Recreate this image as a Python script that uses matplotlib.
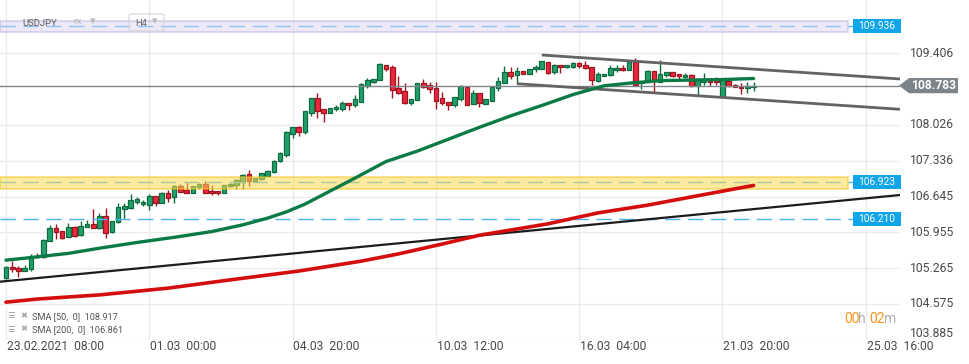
"""
plot.py

USDJPY H4 candles with SMA 50/200, trend channel and key levels.
"""
import matplotlib.pyplot as plt
from matplotlib.patches import Rectangle, Polygon, FancyBboxPatch
from matplotlib.transforms import blended_transform_factory
import numpy as np

plt.rcParams['font.family'] = ['Roboto', 'DejaVu Sans']

# candles (H4 bars, index 0 = 23.02.2021 08:00)
opens = [105.08, 105.28, 105.26, 105.22, 105.24, 105.49, 105.48, 105.78, 106.03, 105.98,
         105.87, 106.05, 105.90, 106.05, 106.12, 106.03, 106.27, 105.96, 106.15, 106.41,
         106.43, 106.55, 106.50, 106.48, 106.65, 106.53, 106.71, 106.64, 106.85, 106.77,
         106.72, 106.82, 106.88, 106.76, 106.75, 106.71, 106.84, 106.86, 106.93, 107.08,
         106.95, 106.99, 107.05, 107.11, 107.33, 107.45, 107.86, 107.98, 107.88, 108.26,
         108.54, 108.33, 108.26, 108.33, 108.34, 108.44, 108.40, 108.47, 108.78, 108.85,
         108.90, 109.19, 109.14, 108.74, 108.68, 108.44, 108.50, 108.83, 108.79, 108.74,
         108.55, 108.46, 108.40, 108.53, 108.76, 108.42, 108.64, 108.43, 108.49, 108.74,
         108.84, 109.04, 108.98, 109.06, 109.01, 109.10, 109.11, 109.24, 109.04, 109.18,
         109.14, 109.14, 109.21, 109.18, 109.14, 108.87, 108.97, 108.98, 109.08, 109.13,
         109.08, 109.23, 108.84, 108.85, 109.07, 108.86, 108.99, 109.05, 109.01, 108.94,
         108.99, 108.78, 108.85, 108.88, 108.89, 108.57, 108.88, 108.80, 108.76, 108.73,
         108.76]
highs = [105.31, 105.40, 105.31, 105.32, 105.53, 105.55, 105.82, 106.09, 106.12, 105.98,
         106.13, 106.07, 106.17, 106.19, 106.40, 106.33, 106.43, 106.17, 106.52, 106.52,
         106.70, 106.63, 106.58, 106.69, 106.65, 106.73, 106.77, 106.87, 106.89, 106.93,
         106.85, 106.90, 106.95, 106.87, 106.75, 106.87, 106.91, 106.98, 107.08, 107.16,
         107.00, 107.10, 107.16, 107.35, 107.50, 107.91, 107.98, 108.01, 108.30, 108.55,
         108.65, 108.33, 108.35, 108.41, 108.49, 108.44, 108.60, 108.83, 108.93, 108.92,
         109.21, 109.19, 109.18, 108.97, 108.83, 108.52, 108.83, 108.91, 108.86, 108.86,
         108.66, 108.46, 108.57, 108.79, 108.78, 108.70, 108.64, 108.52, 108.76, 108.94,
         109.16, 109.14, 109.14, 109.06, 109.10, 109.18, 109.26, 109.24, 109.20, 109.18,
         109.19, 109.24, 109.24, 109.26, 109.14, 109.05, 109.01, 109.18, 109.19, 109.18,
         109.24, 109.32, 108.87, 109.08, 109.07, 109.28, 109.05, 109.05, 109.01, 109.02,
         109.01, 108.91, 109.03, 108.91, 108.95, 108.91, 108.89, 108.82, 108.83, 108.85,
         108.85]
lows = [105.06, 105.20, 105.09, 105.22, 105.22, 105.46, 105.47, 105.78, 105.83, 105.83,
        105.86, 105.86, 105.89, 106.05, 106.03, 106.02, 105.85, 105.95, 106.14, 106.21,
        106.40, 106.50, 106.46, 106.39, 106.46, 106.52, 106.55, 106.53, 106.74, 106.72,
        106.71, 106.79, 106.71, 106.68, 106.68, 106.71, 106.82, 106.79, 106.80, 106.85,
        106.94, 106.97, 107.04, 107.10, 107.31, 107.41, 107.78, 107.81, 107.86, 108.20,
        108.15, 108.09, 108.26, 108.30, 108.30, 108.31, 108.38, 108.47, 108.74, 108.83,
        108.90, 109.07, 108.55, 108.62, 108.43, 108.41, 108.50, 108.74, 108.65, 108.33,
        108.41, 108.32, 108.38, 108.49, 108.41, 108.42, 108.37, 108.43, 108.49, 108.67,
        108.83, 108.91, 108.83, 109.00, 109.01, 109.05, 109.11, 109.00, 109.01, 109.02,
        109.12, 109.12, 109.12, 109.10, 108.79, 108.85, 108.97, 108.97, 109.05, 109.07,
        109.08, 108.78, 108.71, 108.85, 108.65, 108.85, 108.94, 108.95, 108.91, 108.93,
        108.76, 108.60, 108.79, 108.78, 108.80, 108.56, 108.76, 108.76, 108.62, 108.65,
        108.67]
closes = [105.28, 105.24, 105.22, 105.27, 105.50, 105.48, 105.80, 106.03, 105.96, 105.85,
          106.05, 105.89, 106.07, 106.11, 106.03, 106.27, 105.95, 106.17, 106.44, 106.46,
          106.58, 106.60, 106.54, 106.65, 106.53, 106.71, 106.62, 106.85, 106.74, 106.72,
          106.84, 106.88, 106.72, 106.71, 106.71, 106.86, 106.89, 106.96, 107.06, 106.95,
          107.00, 107.09, 107.14, 107.33, 107.48, 107.88, 107.98, 107.88, 108.29, 108.54,
          108.30, 108.26, 108.35, 108.37, 108.44, 108.40, 108.53, 108.81, 108.89, 108.92,
          109.20, 109.11, 108.70, 108.65, 108.44, 108.52, 108.83, 108.76, 108.71, 108.49,
          108.44, 108.40, 108.56, 108.77, 108.41, 108.64, 108.44, 108.52, 108.76, 108.87,
          109.04, 108.97, 109.07, 109.00, 109.10, 109.15, 109.26, 109.03, 109.18, 109.14,
          109.18, 109.21, 109.16, 109.12, 108.89, 109.01, 109.01, 109.12, 109.12, 109.08,
          109.24, 108.80, 108.86, 109.07, 108.88, 109.00, 109.05, 108.97, 108.96, 108.99,
          108.78, 108.91, 108.89, 108.85, 108.85, 108.89, 108.78, 108.76, 108.73, 108.78,
          108.78]

# moving averages (bar index, value)
sma50_bars = [0, 4, 10, 15, 21, 27, 33, 38, 42, 45, 48, 52, 56, 61, 66, 71, 76, 81, 86, 91,
              96, 100, 105, 110, 115, 120]
sma50_vals = [105.42, 105.47, 105.55, 105.65, 105.76, 105.86, 105.97, 106.10, 106.23, 106.35,
              106.50, 106.75, 107.00, 107.32, 107.52, 107.75, 107.98, 108.20, 108.40, 108.61,
              108.78, 108.83, 108.88, 108.89, 108.90, 108.92]
sma200_bars = [0, 5, 15, 26, 36, 47, 57, 63, 70, 76, 83, 87, 95, 103, 111, 120]
sma200_vals = [104.61, 104.67, 104.75, 104.88, 105.04, 105.21, 105.40, 105.54, 105.73, 105.90,
               106.04, 106.12, 106.33, 106.48, 106.66, 106.86]

# drawn trend lines (bar index, price)
trend_bars, trend_vals = [-0.96, 143.5], [105.005, 106.675]
chan_up_bars, chan_up_vals = [86.0, 143.5], [109.373, 108.911]
chan_lo_bars, chan_lo_vals = [82.0, 143.5], [108.820, 108.327]

# levels
last_price = 108.783
levels = [109.936, 106.923, 106.210]
purple_zone = (109.82, 110.02)
yellow_zone = (106.79, 107.02)
sma_legend = ["SMA [50,  0]  108.917", "SMA [200,  0]  106.861"]

price_ticks = [103.885, 104.575, 105.265, 105.955, 106.645, 107.336, 108.026, 109.406]
tick_bars = [0, 23, 46, 69, 92, 115, 138]
tick_labels = ["23.02.2021  08:00", "01.03  00:00", "04.03  20:00", "10.03  12:00",
               "16.03  04:00", "21.03  20:00", "25.03  16:00"]

LEVEL_BLUE = "#4cb3f0"
BOX_BLUE = "#0ea5e9"
TEXT = "#4a4a4a"

fig = plt.figure(figsize=(9.7, 3.64), dpi=100)
ax = fig.add_axes([0, 24.2 / 364, 900 / 970, 339.8 / 364])
ax.set_xlim(-0.96, 143.5)
ax.set_ylim(103.885, 110.433)
for s in ax.spines.values():
    s.set_visible(False)
ax.set_xticks(tick_bars)
ax.set_yticks(price_ticks)
ax.tick_params(length=0, labelleft=False, labelbottom=False)
ax.grid(color="#ececec", lw=1)
ax.set_axisbelow(True)

# candles
for i, (o, h, l, c) in enumerate(zip(opens, highs, lows, closes)):
    up = c >= o
    fc = "#22a06b" if up else "#e8283c"
    ec = "#0d6b3f" if up else "#a0131f"
    ax.vlines(i, l, h, color=ec, lw=1, zorder=3)
    ax.add_patch(Rectangle((i - 0.37, min(o, c)), 0.74, max(abs(c - o), 0.012),
                           fc=fc, ec=ec, lw=0.9, zorder=4))

# level lines and zones
zone_end = 135.2
for lv in levels:
    ax.hlines(lv, -1, zone_end, color=LEVEL_BLUE, lw=1.0, linestyle=(0, (11, 5.5)), zorder=4.5)
    ax.hlines(lv, zone_end, 136.1, color=LEVEL_BLUE, lw=1.0, zorder=4.5)

ax.add_patch(Rectangle((-1, purple_zone[0]), zone_end + 1, purple_zone[1] - purple_zone[0],
                       fc="#ddd4f1", ec="#b9aadf", alpha=0.5, lw=1.2, zorder=5))
ax.add_patch(Rectangle((-1, yellow_zone[0]), zone_end + 1, yellow_zone[1] - yellow_zone[0],
                       fc="#fbd952", ec="#f2c21b", alpha=0.55, lw=1.2, zorder=5))

ax.axhline(last_price, color="#80868b", lw=1, zorder=6)

# trend lines
ax.plot(trend_bars, trend_vals, color="#1c1c1c", lw=1.6, zorder=6)
ax.plot(chan_up_bars, chan_up_vals, color="#646464", lw=2.0, zorder=6, solid_capstyle="butt")
ax.plot(chan_lo_bars, chan_lo_vals, color="#646464", lw=2.0, zorder=6, solid_capstyle="butt")

# moving averages
ax.plot(sma200_bars, sma200_vals, color="#d40d0d", lw=2.6, zorder=7, solid_capstyle="round")
ax.plot(sma50_bars, sma50_vals, color="#0b7a45", lw=2.4, zorder=7, solid_capstyle="round")

# right axis labels
tr = blended_transform_factory(ax.transAxes, ax.transData)
for p in price_ticks:
    off = 0.12 if p == price_ticks[0] else 0
    ax.text(1.0111, p + off, f"{p:.3f}", transform=tr, ha="left", va="center",
            fontsize=8.7, color=TEXT, clip_on=False)

half = 7.2 * 0.01927
for lv in levels:
    ax.add_patch(Rectangle((853 / 900, lv - half), 48 / 900, 2 * half, transform=tr,
                           fc=BOX_BLUE, ec="none", clip_on=False, zorder=8))
    ax.text(877 / 900, lv, f"{lv:.3f}", transform=tr, ha="center", va="center",
            fontsize=7.3, color="white", clip_on=False, zorder=9)

half = 7.6 * 0.01927
ax.add_patch(Polygon([(899 / 900, last_price), (909 / 900, last_price + half),
                      (958 / 900, last_price + half), (958 / 900, last_price - half),
                      (909 / 900, last_price - half)],
                     closed=True, transform=tr, fc="#7d8489", ec="none", clip_on=False, zorder=8))
ax.text(934 / 900, last_price, f"{last_price:.3f}", transform=tr, ha="center", va="center",
        fontsize=8.7, color="white", weight="bold", clip_on=False, zorder=9)

# bottom axis labels
xtr = ax.get_xaxis_transform()
for b, lab in zip(tick_bars, tick_labels):
    ax.text(b + 0.15, -7.2 / 339.8, lab, transform=xtr, ha="left", va="center",
            fontsize=8.7, color=TEXT, clip_on=False)

# countdown
cy = 1 - 319 / 364
fig.text(844 / 970, cy, "00", color="#f7941d", fontsize=10, va="center")
fig.text(858.5 / 970, cy, "h", color="#b0b0b0", fontsize=10, va="center")
fig.text(869 / 970, cy, "02", color="#f7941d", fontsize=10, va="center")
fig.text(884 / 970, cy, "m", color="#b0b0b0", fontsize=10, va="center")

# SMA legend
for k, txt in enumerate(sma_legend):
    y = 1 - (316.5 + 13 * k) / 364
    fig.text(7 / 970, y, "☰", color="#9a9a9a", fontsize=6, va="center")
    fig.text(20 / 970, y, "✖", color="#a5a5a5", fontsize=6, va="center")
    fig.text(32 / 970, y, txt, color="#555555", fontsize=6.6, va="center")

# instrument header
hy = 1 - 23 / 364
fig.text(22 / 970, hy, "USDJPY", color="#5a5a5a", fontsize=6.8, va="center")
fig.text(73 / 970, hy, "FX", color="#b0b0b0", fontsize=5, va="center")
fig.text(90 / 970, hy + 0.004, "▾", color="#b8b8b8", fontsize=8, va="center")
fig.add_artist(FancyBboxPatch((129 / 970, 1 - 31 / 364), 35 / 970, 17 / 364,
                              boxstyle="round,pad=0,rounding_size=0.004",
                              transform=fig.transFigure, fc="none", ec="#d5d5d5", lw=0.8))
fig.text(135 / 970, hy, "H4", color="#6a6a6a", fontsize=6.8, va="center")
fig.text(152 / 970, hy + 0.004, "▾", color="#b8b8b8", fontsize=8, va="center")

fig.savefig("out.png", dpi=100)
